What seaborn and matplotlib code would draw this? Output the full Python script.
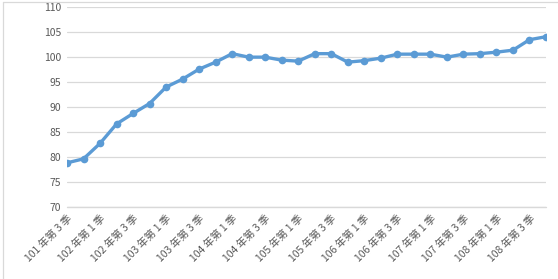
import matplotlib
matplotlib.use("Agg")
import matplotlib.pyplot as plt
import seaborn as sns
import pandas as pd
from matplotlib.lines import Line2D

years = [101, 102, 103, 104, 105, 106, 107, 108]
quarters = [f"{y} 年第 {q} 季" for y in years for q in (1, 2, 3, 4)][2:]
values = [78.8, 79.6, 82.7, 86.6, 88.7, 90.7, 94.0, 95.6, 97.6, 99.0,
          100.7, 100.0, 100.0, 99.4, 99.2, 100.7, 100.7, 99.0, 99.3, 99.8,
          100.6, 100.6, 100.6, 100.0, 100.6, 100.7, 101.0, 101.4, 103.5, 104.1]
yticks = [70, 75, 80, 85, 90, 95, 100, 105, 110]

df = pd.DataFrame({"quarter": quarters, "value": values})

sns.set_theme(style="white")
plt.rcParams["font.family"] = ["Noto Sans CJK TC", "DejaVu Sans"]

fig = plt.figure(figsize=(5.58, 2.79), dpi=100)
ax = fig.add_axes([67 / 558, 1 - 206.7 / 279, (546 - 67) / 558, (206.7 - 7.3) / 279])

sns.lineplot(data=df, x="quarter", y="value", ax=ax, color="#5B9BD5",
             linewidth=2.4, marker="o", markersize=5.5, markeredgewidth=0,
             sort=False)

ax.set_xlim(0, len(quarters) - 1)
ax.set_ylim(70, 110)
ax.set_yticks(yticks)
ax.set_yticklabels([str(t) for t in yticks], color="#595959", fontsize=7.5)
ax.yaxis.grid(True, color="#D9D9D9", linewidth=0.9)
ax.axhline(yticks[0], color="#D9D9D9", linewidth=1.0, clip_on=False, zorder=0)
ax.set_axisbelow(True)
tick_pos = list(range(0, len(quarters), 2))
ax.set_xticks(tick_pos)
ax.set_xticklabels([quarters[i] for i in tick_pos], rotation=45, ha="right",
                   va="top", rotation_mode="anchor", color="#595959", fontsize=7.5)
ax.tick_params(axis="both", length=0, pad=4)
ax.tick_params(axis="x", pad=5)
ax.set_xlabel("")
ax.set_ylabel("")
for s in ax.spines.values():
    s.set_visible(False)

# chart border (left/top)
fig.add_artist(Line2D([2.5 / 558, 2.5 / 558], [0, 1 - 2.3 / 279], transform=fig.transFigure,
                      color="#D9D9D9", linewidth=0.9))
fig.add_artist(Line2D([2.5 / 558, 1], [1 - 2.3 / 279, 1 - 2.3 / 279], transform=fig.transFigure,
                      color="#D9D9D9", linewidth=0.9))

fig.savefig("out.png", dpi=100)
